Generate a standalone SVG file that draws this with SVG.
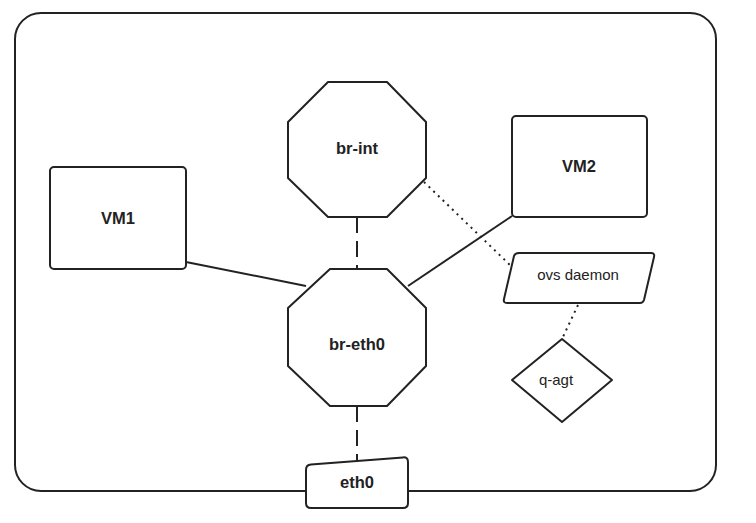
<svg xmlns="http://www.w3.org/2000/svg" width="756" height="523" viewBox="0 0 756 523">
<style>
.s{fill:#fff;stroke:#222;stroke-width:2;stroke-linejoin:round}
.c{fill:none;stroke:#222;stroke-width:2}
.dash{stroke-dasharray:16 8}
.dot{stroke-dasharray:2 4.5}
.b{font-family:"Liberation Sans",Arial,sans-serif;font-weight:bold;font-size:16.5px;fill:#222;text-anchor:middle}
.r{font-family:"Liberation Sans",Arial,sans-serif;font-size:15px;fill:#222;text-anchor:middle}
</style>
<rect width="756" height="523" fill="#fff"/>
<g id="frame"><rect x="15" y="13" width="701" height="478" rx="26" class="s"/></g>
<g id="connectors">
<line x1="357" y1="217" x2="357" y2="269" class="c dash"/>
<line x1="357" y1="406" x2="357" y2="461" class="c dash"/>
<line x1="186" y1="262" x2="306" y2="286" class="c"/>
<line x1="512" y1="216" x2="408" y2="286" class="c"/>
<line x1="424" y1="182" x2="511" y2="266" class="c dot"/>
<line x1="578" y1="305" x2="562" y2="339" class="c dot"/>
</g>
<g id="br-int"><polygon points="328,82 387,82 426,122 426,178 387,217 328,217 288,178 288,122" class="s"/><text x="357" y="154" class="b">br-int</text></g>
<g id="br-eth0"><polygon points="330,269 387,269 426,308 426,366 387,406 330,406 288,366 288,308" class="s"/><text x="357" y="350" class="b">br-eth0</text></g>
<g id="vm1"><rect x="50" y="167" width="136" height="102" rx="4" class="s"/><text x="118" y="224" class="b">VM1</text></g>
<g id="vm2"><rect x="512" y="116" width="135" height="101" rx="4" class="s"/><text x="579" y="172" class="b">VM2</text></g>
<g id="ovs-daemon"><path d="M519,253 L651,253 Q655,253 654,257 L644,300 Q643,303 640,303 L507,303 Q503,303 504,299 L514,256 Q515,253 519,253 Z" class="s"/><text x="578" y="280" class="r">ovs daemon</text></g>
<g id="q-agt"><polygon points="562,339 612,380 562,422 512,380" class="s"/><text x="556" y="385" class="r">q-agt</text></g>
<g id="eth0"><path d="M306,470 Q306,465 311,464.6 L403,457.4 Q408,457 408,462 L408,503 Q408,508 403,508 L311,508 Q306,508 306,503 Z" class="s"/><text x="357" y="488" class="b">eth0</text></g>
</svg>
